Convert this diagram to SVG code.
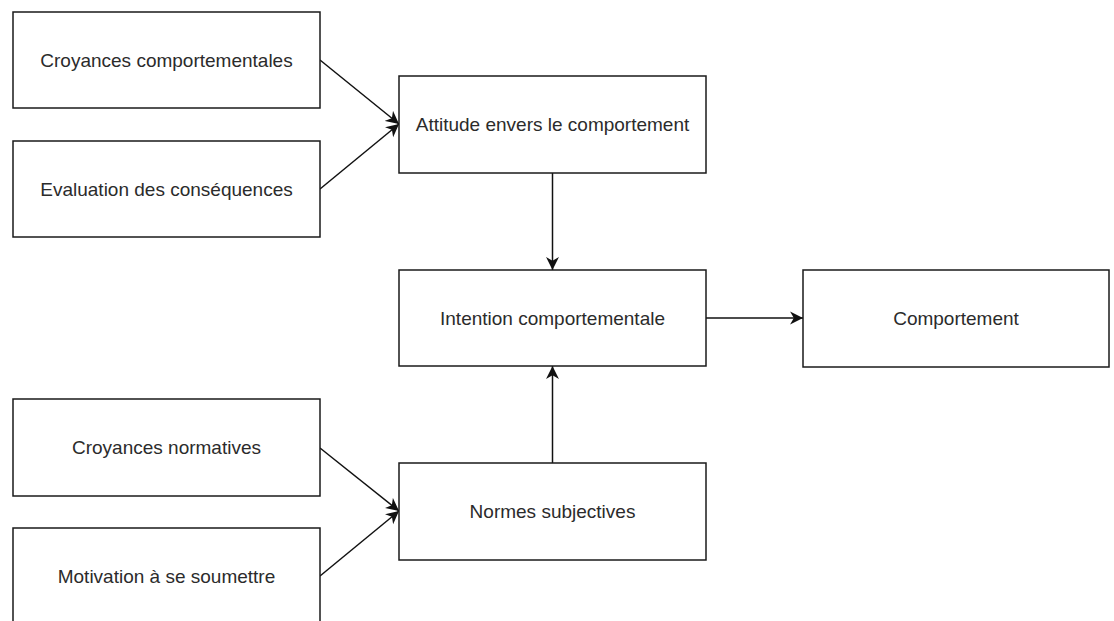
<svg xmlns="http://www.w3.org/2000/svg" width="1114" height="621" viewBox="0 0 1114 621">
<style>
.box{fill:#fff;stroke:#1a1a1a;stroke-width:1.5}
.lbl{font-family:"Liberation Sans",Arial,sans-serif;font-size:19px;fill:#2b2b2b;text-anchor:middle}
.edge{fill:none;stroke:#111;stroke-width:1.5}
</style>
<defs>
<marker id="arr" markerUnits="userSpaceOnUse" markerWidth="14" markerHeight="14" viewBox="0 0 13 12" refX="12" refY="6" orient="auto">
<path d="M0,0 L12,6 L0,12 L3.5,6 z" fill="#111"/>
</marker>
</defs>
<rect width="1114" height="621" fill="#fff"/>
<g id="connectors">
<line class="edge" x1="320" y1="60" x2="399" y2="124" marker-end="url(#arr)"/>
<line class="edge" x1="320" y1="189" x2="399" y2="124" marker-end="url(#arr)"/>
<line class="edge" x1="552.5" y1="173" x2="552.5" y2="270" marker-end="url(#arr)"/>
<line class="edge" x1="552.5" y1="463" x2="552.5" y2="366" marker-end="url(#arr)"/>
<line class="edge" x1="706" y1="318" x2="803" y2="318" marker-end="url(#arr)"/>
<line class="edge" x1="320" y1="448" x2="399" y2="511" marker-end="url(#arr)"/>
<line class="edge" x1="320" y1="576" x2="399" y2="511" marker-end="url(#arr)"/>
</g>
<g id="croyances-comportementales">
<rect class="box" x="13" y="12" width="307" height="96"/>
<text class="lbl" x="166.5" y="66.8">Croyances comportementales</text>
</g>
<g id="evaluation-consequences">
<rect class="box" x="13" y="141" width="307" height="96"/>
<text class="lbl" x="166.5" y="195.8">Evaluation des conséquences</text>
</g>
<g id="attitude">
<rect class="box" x="399" y="76" width="307" height="97"/>
<text class="lbl" x="552.5" y="131.3">Attitude envers le comportement</text>
</g>
<g id="intention">
<rect class="box" x="399" y="270" width="307" height="96"/>
<text class="lbl" x="552.5" y="324.8">Intention comportementale</text>
</g>
<g id="comportement">
<rect class="box" x="803" y="270" width="306" height="97"/>
<text class="lbl" x="956" y="325.3">Comportement</text>
</g>
<g id="croyances-normatives">
<rect class="box" x="13" y="399" width="307" height="97"/>
<text class="lbl" x="166.5" y="454.3">Croyances normatives</text>
</g>
<g id="motivation">
<rect class="box" x="13" y="528" width="307" height="96"/>
<text class="lbl" x="166.5" y="582.8">Motivation à se soumettre</text>
</g>
<g id="normes-subjectives">
<rect class="box" x="399" y="463" width="307" height="97"/>
<text class="lbl" x="552.5" y="518.3">Normes subjectives</text>
</g>
</svg>
